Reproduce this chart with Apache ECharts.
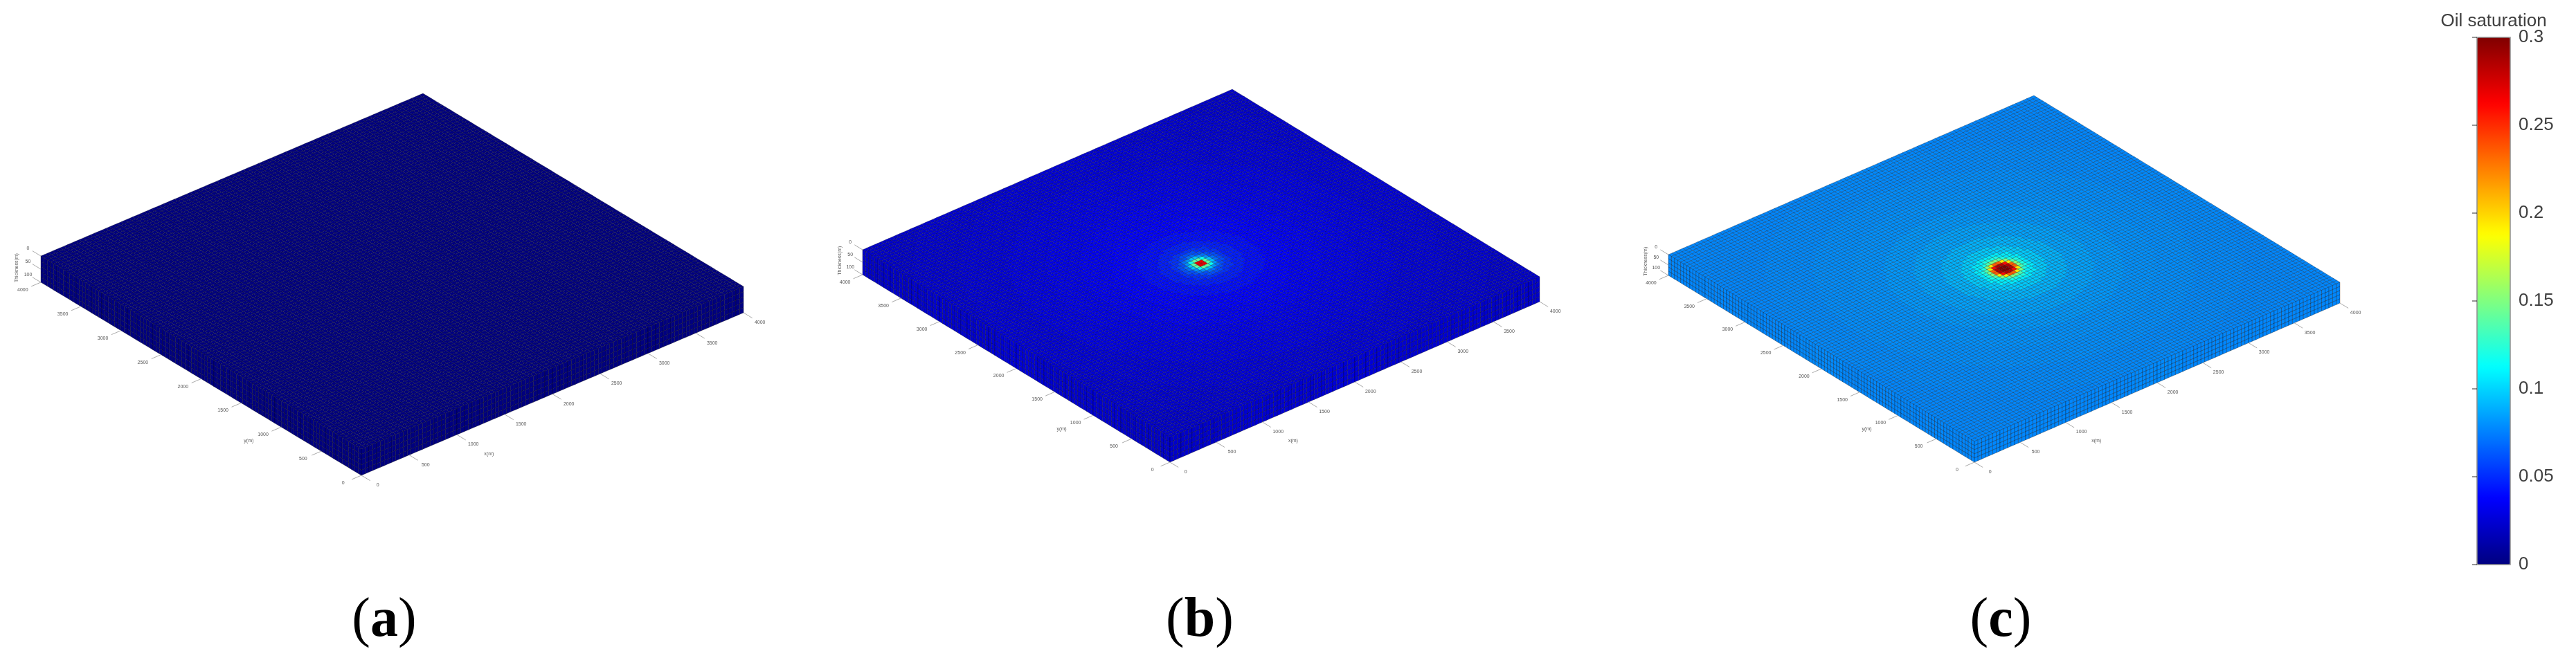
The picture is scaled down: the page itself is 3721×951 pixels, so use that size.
<!DOCTYPE html>
<html>
<head>
    <meta charset="utf-8">
    <title>Oil saturation</title>
    <script src="https://cdn.jsdelivr.net/npm/echarts@6/dist/echarts.min.js"></script>
    <style>
        html, body { margin: 0; padding: 0; background: #fff; }
        #main { width: 3721px; height: 951px; }
    </style>
</head>
<body>
<div id="main"></div>

<script type="text/javascript">
// tick labels
var planTicks = [0, 500, 1000, 1500, 2000, 2500, 3000, 3500, 4000];
var thicknessTicks = [0, 50, 100];
var colorbarTicks = [0, 0.05, 0.1, 0.15, 0.2, 0.25, 0.3];
var captions = ['a', 'b', 'c'];

// model grid
var cellsPerSide = 100;
var layerCount = 5;
var planSize = 4000;
var thickness = 100;

// saturation, by distance from the well in cells: [up to distance, value]
var ringsA = [[999, 0]];
var ringsB = [[1, 0.27], [1.8, 0.14], [2.3, 0.115], [2.7, 0.095], [3.1, 0.08], [3.8, 0.07], [4.8, 0.06],
    [6.5, 0.052], [9, 0.046], [13, 0.041], [19, 0.037], [25, 0.034], [32, 0.031], [40, 0.029], [50, 0.026], [60, 0.024], [999, 0.022]];
var ringsC = [[1, 0.3], [1.8, 0.285], [2.3, 0.26], [2.7, 0.235], [3.1, 0.195], [3.6, 0.15], [4, 0.135], [4.8, 0.12],
    [6.5, 0.107], [9, 0.097], [13, 0.09], [19, 0.085], [25, 0.082], [32, 0.08], [40, 0.079], [50, 0.078], [999, 0.077]];

// jet colour map
var jet = ['#000080', '#0000ff', '#0080ff', '#00ffff', '#80ff80', '#ffff00', '#ff8000', '#ff0000', '#800000'];

// screen placement of each block: top near corner, edge to x=4000, edge to y=4000, height of the side
var views = [
    { near: [522, 649], ex: [552, -235], ey: [-463, -279], side: 38, rings: ringsA, caption: 555 },
    { near: [1690, 632], ex: [534, -232], ey: [-444, -271], side: 36, rings: ringsB, caption: 1733 },
    { near: [2852, 638], ex: [528, -230], ey: [-442, -270], side: 30, rings: ringsC, caption: 2890 }
];

var fontFamily = '"Liberation Sans", Arial, sans-serif';

function ringValue(rings, ix, iy) {
    var c = cellsPerSide / 2 - 0.5;
    var d = Math.sqrt((ix - c) * (ix - c) + (iy - c) * (iy - c));
    for (var i = 0; i < rings.length; i++) {
        if (d <= rings[i][0]) return rings[i][1];
    }
    return rings[rings.length - 1][1];
}

// rows: x, y, value, face (0 top, 1 x=0 side, 2 y=0 side), layer
function buildCells(rings) {
    var step = planSize / cellsPerSide;
    var rows = [];
    for (var ix = 0; ix < cellsPerSide; ix++) {
        for (var iy = cellsPerSide - 1; iy >= 0; iy--) {
            var v = ringValue(rings, ix, iy);
            rows.push([ix * step, iy * step, v, 0, 0]);
            for (var k = 0; k < layerCount; k++) {
                if (ix === 0) rows.push([0, iy * step, v, 1, k]);
                if (iy === 0) rows.push([ix * step, 0, v, 2, k]);
            }
        }
    }
    return rows;
}

function projector(view, params, api) {
    var cs = params.coordSys;
    return function (x, y, z) {
        var p = api.coord([x, y]);
        var u = (p[0] - cs.x) / cs.width;
        var w = (cs.y + cs.height - p[1]) / cs.height;
        return [
            view.near[0] + u * view.ex[0] + w * view.ey[0],
            view.near[1] + u * view.ex[1] + w * view.ey[1] + (z || 0) / thickness * view.side
        ];
    };
}

function cellSeries(view, i) {
    var step = planSize / cellsPerSide;
    var dz = thickness / layerCount;
    return {
        type: 'custom',
        coordinateSystem: 'cartesian2d',
        xAxisIndex: i,
        yAxisIndex: i,
        silent: true,
        animation: false,
        progressive: 0,
        encode: { x: 0, y: 1 },
        data: buildCells(view.rings),
        renderItem: function (params, api) {
            var pt = projector(view, params, api);
            var x = api.value(0), y = api.value(1), face = api.value(3), z = api.value(4) * dz;
            var pts;
            if (face === 0) {
                pts = [pt(x, y), pt(x + step, y), pt(x + step, y + step), pt(x, y + step)];
            } else if (face === 1) {
                pts = [pt(0, y, z), pt(0, y + step, z), pt(0, y + step, z + dz), pt(0, y, z + dz)];
            } else {
                pts = [pt(x, 0, z), pt(x + step, 0, z), pt(x + step, 0, z + dz), pt(x, 0, z + dz)];
            }
            return {
                type: 'polygon',
                shape: { points: pts },
                style: {
                    fill: api.visual('color'),
                    stroke: face === 0 ? 'rgba(0,0,0,0.42)' : 'rgba(0,0,0,0.5)',
                    lineWidth: 0.6
                }
            };
        }
    };
}

// rows: axis name, value, label
function axisRows() {
    var rows = [];
    planTicks.forEach(function (t) {
        rows.push(['x', t, String(t)]);
        rows.push(['y', t, String(t)]);
    });
    thicknessTicks.forEach(function (t) { rows.push(['z', t, String(t)]); });
    rows.push(['xTitle', 1000, 'x(m)']);
    rows.push(['yTitle', 1000, 'y(m)']);
    rows.push(['zTitle', 100, 'Thickness(m)']);
    return rows;
}

function axisSeries(view, i) {
    var rows = axisRows();
    return {
        type: 'custom',
        coordinateSystem: 'cartesian2d',
        xAxisIndex: i,
        yAxisIndex: i,
        silent: true,
        animation: false,
        data: rows.map(function (r) { return [r[1], 0]; }),
        renderItem: function (params, api) {
            var pt = projector(view, params, api);
            var r = rows[params.dataIndex], t = r[1], a, b, c, rot = 0;
            if (r[0] === 'x') { a = pt(t, 0, thickness); b = pt(t, -110, thickness); c = pt(t, -205, thickness); }
            else if (r[0] === 'y') { a = pt(0, t, thickness); b = pt(-100, t, thickness); c = pt(-190, t, thickness); }
            else if (r[0] === 'z') { a = pt(0, planSize, t); b = pt(0, planSize + 105, t); c = pt(0, planSize + 160, t); }
            else if (r[0] === 'xTitle') { c = pt(t, -400, thickness); }
            else if (r[0] === 'yTitle') { c = pt(-340, t, thickness); }
            else { c = pt(0, planSize + 300, t); rot = Math.PI / 2; }
            var kids = [];
            if (a) {
                kids.push({
                    type: 'line',
                    shape: { x1: a[0], y1: a[1], x2: b[0], y2: b[1] },
                    style: { stroke: '#aaaaaa', lineWidth: 1 }
                });
            }
            kids.push({
                type: 'text',
                x: c[0],
                y: c[1],
                rotation: rot,
                style: { text: r[2], fontSize: 7, fontFamily: fontFamily, fill: '#555555', align: 'center', verticalAlign: 'middle' }
            });
            return { type: 'group', children: kids };
        }
    };
}

var grids = [], xAxes = [], yAxes = [], series = [], graphics = [];
views.forEach(function (view, i) {
    var minX = view.near[0] + view.ey[0];
    grids.push({ left: minX, top: view.near[1] + view.ex[1] + view.ey[1], width: view.ex[0] - view.ey[0], height: -view.ex[1] - view.ey[1], show: false });
    xAxes.push({ type: 'value', gridIndex: i, min: 0, max: planSize, show: false });
    yAxes.push({ type: 'value', gridIndex: i, min: 0, max: planSize, show: false });
    series.push(cellSeries(view, i));
    graphics.push({
        type: 'text',
        x: view.caption,
        y: 898,
        style: {
            text: '{p|(}{b|' + captions[i] + '}{p|)}',
            align: 'center',
            verticalAlign: 'middle',
            rich: {
                p: { fontFamily: '"Liberation Serif"', fontSize: 80, fill: '#000' },
                b: { fontFamily: '"Liberation Serif"', fontSize: 80, fontWeight: 'bold', fill: '#000' }
            }
        }
    });
});
views.forEach(function (view, i) { series.push(axisSeries(view, i)); });

// colour bar frame and ticks
grids.push({ left: 3578, top: 54, width: 48, height: 762, show: true, z: 6, backgroundColor: 'transparent', borderColor: '#8f8f8f', borderWidth: 1.5 });
xAxes.push({ type: 'value', gridIndex: 3, min: 0, max: 1, show: false });
yAxes.push({
    type: 'value',
    gridIndex: 3,
    position: 'right',
    min: colorbarTicks[0],
    max: colorbarTicks[colorbarTicks.length - 1],
    interval: 0.05,
    z: 8,
    splitLine: { show: false },
    axisLine: { show: false },
    axisTick: { show: true, inside: true, length: 7, lineStyle: { color: 'rgba(0,0,0,0.55)', width: 1.5 } },
    axisLabel: {
        margin: 12,
        fontSize: 26,
        fontFamily: fontFamily,
        color: '#404040',
        verticalAlignMinLabel: 'middle',
        verticalAlignMaxLabel: 'middle',
        formatter: function (v) { return String(+v.toFixed(2)); }
    }
});

var myChart = echarts.init(document.getElementById('main'));
myChart.setOption({
    backgroundColor: '#ffffff',
    animation: false,
    grid: grids,
    xAxis: xAxes,
    yAxis: yAxes,
    visualMap: {
        type: 'continuous',
        min: 0,
        max: 0.3,
        dimension: 2,
        seriesIndex: [0, 1, 2],
        left: 3578,
        top: 54,
        padding: 0,
        itemWidth: 48,
        itemHeight: 762,
        calculable: false,
        hoverLink: false,
        text: null,
        showLabel: false,
        z: 2,
        inRange: { color: jet }
    },
    title: {
        text: 'Oil saturation',
        left: 3602,
        top: 18,
        textAlign: 'center',
        padding: 0,
        textStyle: { fontSize: 26, fontWeight: 'normal', fontFamily: fontFamily, color: '#404040' }
    },
    graphic: graphics,
    series: series
});
</script>
</body>
</html>
